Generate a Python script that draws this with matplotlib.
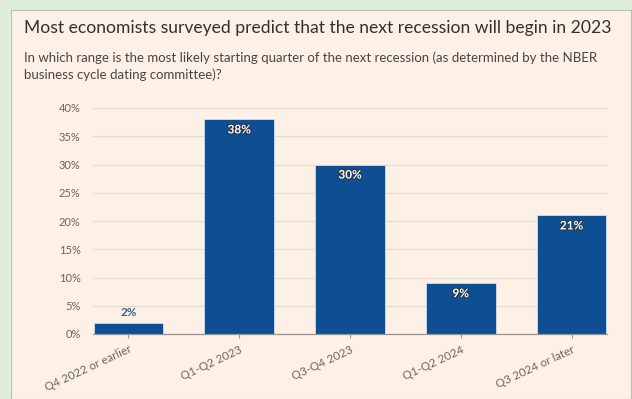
import matplotlib.pyplot as plt
import matplotlib.patheffects as pe
from matplotlib.patches import Rectangle

# Dados
categorias = ['Q4 2022 or earlier', 'Q1-Q2 2023', 'Q3-Q4 2023', 'Q1-Q2 2024', 'Q3 2024 or later']
valores = [2, 38, 30, 9, 21]
ticks_y = [0, 5, 10, 15, 20, 25, 30, 35, 40]

COR_BARRA = '#0e4f93'
COR_FUNDO = '#fdf1e7'
COR_VERDE = '#deeed9'
COR_TEXTO = '#6b645e'

plt.rcParams['font.family'] = ['Lato', 'DejaVu Sans']

fig = plt.figure(figsize=(6.32, 3.99), dpi=100)
fig.patch.set_facecolor(COR_VERDE)

# painel bege
fig.patches.append(Rectangle((11 / 632, 0), 620 / 632, 389 / 399, transform=fig.transFigure,
                             facecolor=COR_FUNDO, edgecolor='#b9c3b2', linewidth=0.8, zorder=-5))

fig.text(24 / 632, 1 - 28 / 399, 'Most economists surveyed predict that the next recession will begin in 2023',
         fontsize=12.6, color='#33302e', va='center', ha='left')
fig.text(24 / 632, 1 - 58 / 399,
         'In which range is the most likely starting quarter of the next recession (as determined by the NBER',
         fontsize=9.5, color='#4a4440', va='center', ha='left')
fig.text(24 / 632, 1 - 75 / 399, 'business cycle dating committee)?',
         fontsize=9.5, color='#4a4440', va='center', ha='left')

ax = fig.add_axes([93 / 632, 1 - 334 / 399, 514 / 632, 226 / 399])
ax.set_zorder(2)
ax.patch.set_alpha(0)

x = range(len(categorias))
barras = ax.bar(x, valores, width=0.63, color=COR_BARRA, edgecolor='#cfe0f0', linewidth=0.6, zorder=3)

ax.set_ylim(0, 40)
ax.set_xlim(-0.32, 4.32)
ax.set_yticks(ticks_y)
ax.set_yticklabels([f'{t}%' for t in ticks_y], fontsize=8, color=COR_TEXTO)
ax.set_xticks(list(x))
ax.set_xticklabels(categorias, rotation=25, ha='right', rotation_mode='anchor', fontsize=8.3, color=COR_TEXTO)
ax.tick_params(axis='y', length=0, pad=9)
ax.tick_params(axis='x', length=3, color='#9a928a', pad=4)
ax.grid(axis='y', color='#e6dbd0', linewidth=0.9, zorder=0)
for s in ['top', 'right', 'left']:
    ax.spines[s].set_visible(False)
ax.spines['bottom'].set_color('#9a928a')
ax.spines['bottom'].set_linewidth(0.9)
ax.spines['bottom'].set_zorder(4)

# rótulos dos valores
for b, v in zip(barras, valores):
    cx = b.get_x() + b.get_width() / 2
    if v < 5:
        ax.text(cx, v + 0.8, f'{v}%', ha='center', va='bottom', fontsize=8.5, fontweight='bold',
                color='#3d6190', zorder=5)
    else:
        ax.text(cx, v - 0.9, f'{v}%', ha='center', va='top', fontsize=8.5, fontweight='bold',
                color='white', zorder=5,
                path_effects=[pe.withStroke(linewidth=1.6, foreground='#2a3a4f')])

plt.savefig('out.png', dpi=100, facecolor=fig.get_facecolor())
